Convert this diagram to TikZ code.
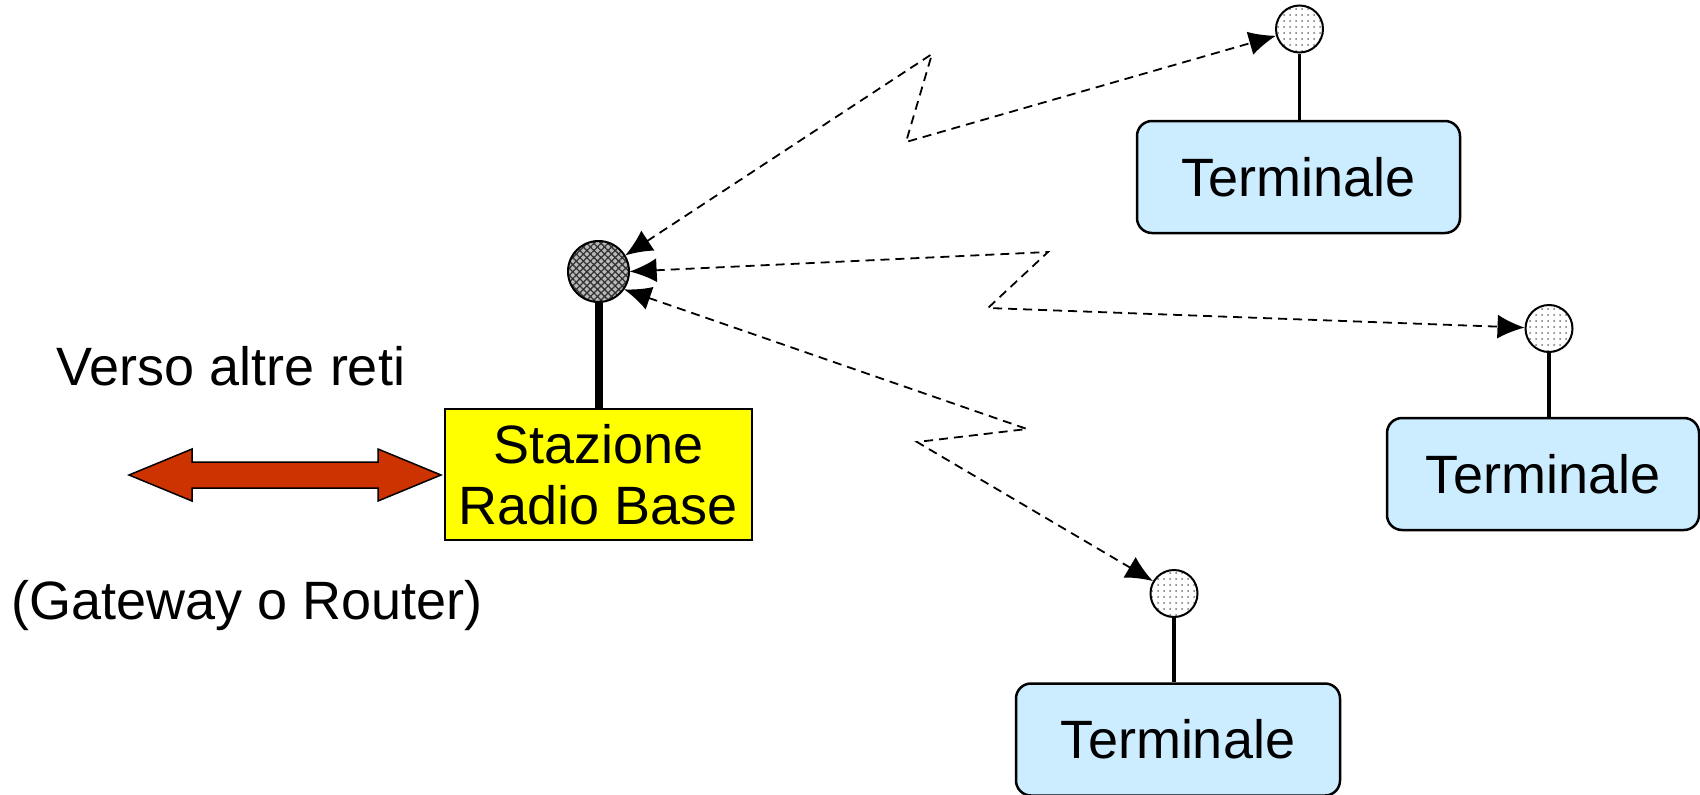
\documentclass[tikz,border=0pt]{standalone}
\usepackage{fontspec}
\setmainfont{Liberation Sans}
\usetikzlibrary{arrows.meta,patterns.meta}

\definecolor{rbsyellow}{RGB}{255,255,0}
\definecolor{termblue}{RGB}{204,236,255}
\definecolor{arrowred}{RGB}{204,51,0}

\tikzset{
    txt/.style={font=\fontsize{54}{61}\selectfont},
    rbsbox/.style={txt, draw, line width=2.5pt, fill=rbsyellow, align=center,
        minimum width=307pt, minimum height=131pt, inner sep=0pt},
    termbox/.style={txt, draw, line width=2.5pt, fill=termblue, rounded corners=15pt,
        minimum height=112pt, inner sep=0pt},
    antbig/.style={circle, draw, line width=2pt, minimum size=61pt, inner sep=0pt,
        preaction={fill=gray!55},
        pattern={Hatch[angle=45, distance=5pt, line width=1.3pt]}, pattern color=black!80},
    antsmall/.style={circle, draw, line width=2pt, minimum size=47pt, inner sep=0pt,
        preaction={fill=white},
        pattern={Dots[distance=6pt, radius=1pt]}, pattern color=gray!90!black},
    radio/.style={dash pattern=on 9pt off 6pt, line width=1.8pt,
        {Latex[length=27pt, width=24pt]}-{Latex[length=27pt, width=24pt]}},
}

\begin{document}
\begin{tikzpicture}[x=1pt, y=-1pt]
    \useasboundingbox (0,0) rectangle (1700,795);

    % base station with its antenna
    \node[rbsbox] (rbs) at (598.5,474.5) {Stazione\\Radio Base};
    \node[antbig] (antbase) at (598.5,271.5) {};
    \draw[line width=8pt] (antbase) -- (rbs);

    % terminals
    \node[termbox, minimum width=323pt] (t1) at (1298.5,177) {Terminale};
    \node[termbox, minimum width=312pt] (t2) at (1543,474) {Terminale};
    \node[termbox, minimum width=324pt] (t3) at (1178,739.5) {Terminale};
    \node[antsmall] (a1) at (1299.5,29) {};
    \node[antsmall] (a2) at (1549,328.5) {};
    \node[antsmall] (a3) at (1174,593.5) {};
    \draw[line width=3.5pt] (a1) -- (a1 |- t1.north);
    \draw[line width=3.5pt] (a2) -- (a2 |- t2.north);
    \draw[line width=3.5pt] (a3) -- (a3 |- t3.north);

    % radio links
    \coordinate (z1a) at (932,54);
    \coordinate (z1b) at (906,142);
    \coordinate (z2a) at (1048,252);
    \coordinate (z2b) at (988,308);
    \coordinate (z3a) at (1027,429);
    \coordinate (z3b) at (917,442);
    \draw[radio] (antbase.31) -- (z1a) -- (z1b) -- (a1);
    \draw[radio] (antbase.0) -- (z2a) -- (z2b) -- (a2);
    \draw[radio] (antbase.-35) -- (z3a) -- (z3b) -- (a3);

    % link to the other networks
    \node[txt, anchor=base] (verso) at (231,385) {Verso altre reti};
    \node[txt, anchor=base] (gw) at (247,619) {(Gateway o Router)};
    \draw[fill=arrowred, line width=1.5pt] (129,475) -- (192,449) -- (192,462)
        -- (378,462) -- (378,449) -- (441,475) -- (378,501) -- (378,488)
        -- (192,488) -- (192,501) -- cycle;
\end{tikzpicture}
\end{document}
